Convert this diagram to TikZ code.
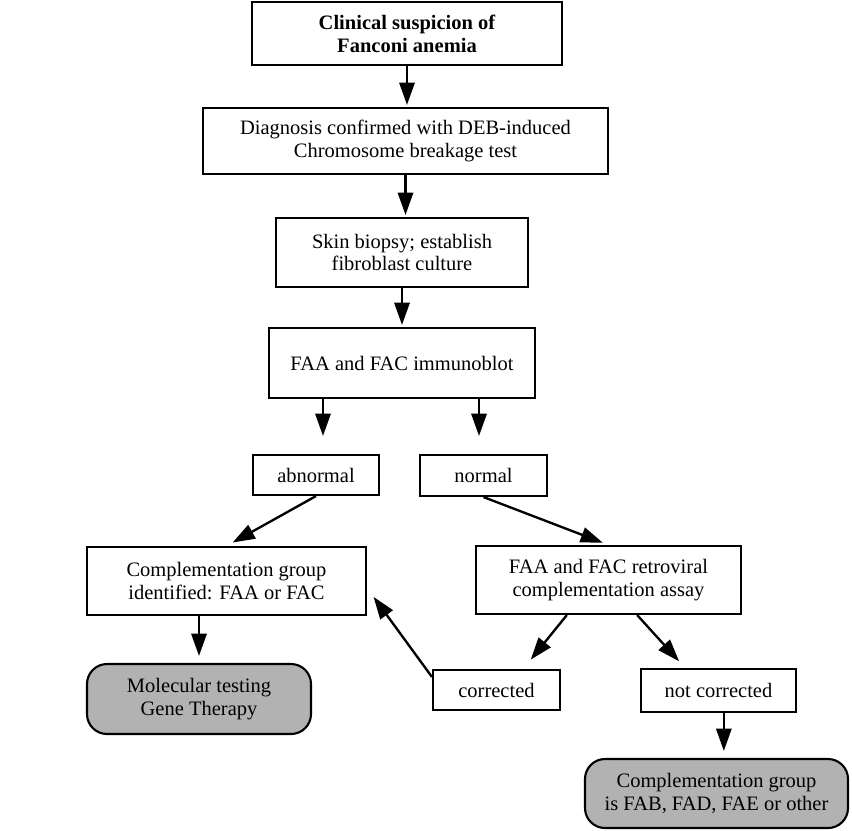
\documentclass[tikz,border=0pt]{standalone}
\usepackage{fontspec}
\setmainfont{Liberation Serif}
\usetikzlibrary{arrows.meta}

\tikzset{
  flowbox/.style={draw, line width=1.8pt, align=center, inner sep=2pt,
    font=\fontsize{17.5}{19.5}\selectfont},
  endbox/.style={flowbox, rounded corners=0.6cm, fill=black!30},
  arr/.style={-{Triangle[length=19pt,width=13pt]}, line width=2pt},
}

\begin{document}
\begin{tikzpicture}[x=0.03cm, y=-0.03cm]
        \useasboundingbox (0,0) rectangle (852,830);

        \node[flowbox, minimum width=9.3cm, minimum height=1.89cm,
          font=\bfseries\fontsize{17.5}{19.5}\selectfont] (suspicion) at (407,33.5)
          {Clinical suspicion of\\Fanconi anemia};
        \node[flowbox, minimum width=12.15cm, minimum height=1.98cm] (diagnosis) at (405.5,141)
          {Diagnosis confirmed with DEB-induced\\Chromosome breakage test};
        \node[flowbox, minimum width=7.56cm, minimum height=2.07cm] (biopsy) at (402,252.5)
          {Skin biopsy; establish\\fibroblast culture};
        \node[flowbox, minimum width=7.98cm, minimum height=2.1cm] (immunoblot) at (402,363)
          {FAA and FAC immunoblot};

        \node[flowbox, minimum width=3.78cm, minimum height=1.2cm] (abnormal) at (316,475) {abnormal};
        \node[flowbox, minimum width=3.81cm, minimum height=1.23cm] (normal) at (483.5,475.5) {normal};

        \node[flowbox, minimum width=8.37cm, minimum height=2.04cm] (groupAC) at (226.5,581)
          {Complementation group\\identified: FAA or FAC};
        \node[flowbox, minimum width=7.95cm, minimum height=2.04cm] (retro) at (608.5,580)
          {FAA and FAC retroviral\\complementation assay};

        \node[endbox, minimum width=6.72cm, minimum height=2.1cm] (molecular) at (199,699)
          {Molecular testing\\Gene Therapy};
        \node[flowbox, minimum width=3.81cm, minimum height=1.2cm] (corrected) at (496.5,690) {corrected};
        \node[flowbox, minimum width=4.65cm, minimum height=1.29cm] (notcorrected) at (718.5,690.5) {not corrected};
        \node[endbox, minimum width=7.89cm, minimum height=2.07cm] (groupother) at (716.5,793.5)
          {Complementation group\\is FAB, FAD, FAE or other};

        \draw[arr, shorten >=0.06cm] (suspicion.south) -- (suspicion.south |- diagnosis.north);
        \draw[arr, shorten >=0.06cm] (diagnosis.south) -- (diagnosis.south |- biopsy.north);
        \draw[arr, shorten >=0.06cm] (biopsy.south) -- (biopsy.south |- immunoblot.north);

        \draw[arr, shorten >=0.54cm] ([xshift=-2.37cm]immunoblot.south)
          -- ([xshift=-2.37cm]immunoblot.south |- abnormal.north);
        \draw[arr, shorten >=0.54cm] ([xshift=2.31cm]immunoblot.south)
          -- ([xshift=2.31cm]immunoblot.south |- normal.north);

        \draw[arr, shorten >=0.21cm] (abnormal.south) -- (groupAC.north);
        \draw[arr, shorten >=0.18cm] (normal.south) -- (retro.north);

        \draw[arr, shorten >=0.21cm] (groupAC.south -| molecular.north) -- (molecular.north);

        \draw[arr, shorten >=0.36cm] ([xshift=-1.25cm]retro.south) -- ([xshift=0.8cm]corrected.north);
        \draw[arr, shorten >=0.27cm] ([xshift=0.86cm]retro.south) -- ([xshift=-1cm]notcorrected.north);

        \draw[arr, shorten >=0.33cm] ([yshift=-0.24cm]corrected.north west) -- ([yshift=-0.21cm]groupAC.east);

        \draw[arr, shorten >=0.21cm] ([xshift=0.16cm]notcorrected.south)
          -- ([xshift=0.16cm]notcorrected.south |- groupother.north);
      \end{tikzpicture}
\end{document}
